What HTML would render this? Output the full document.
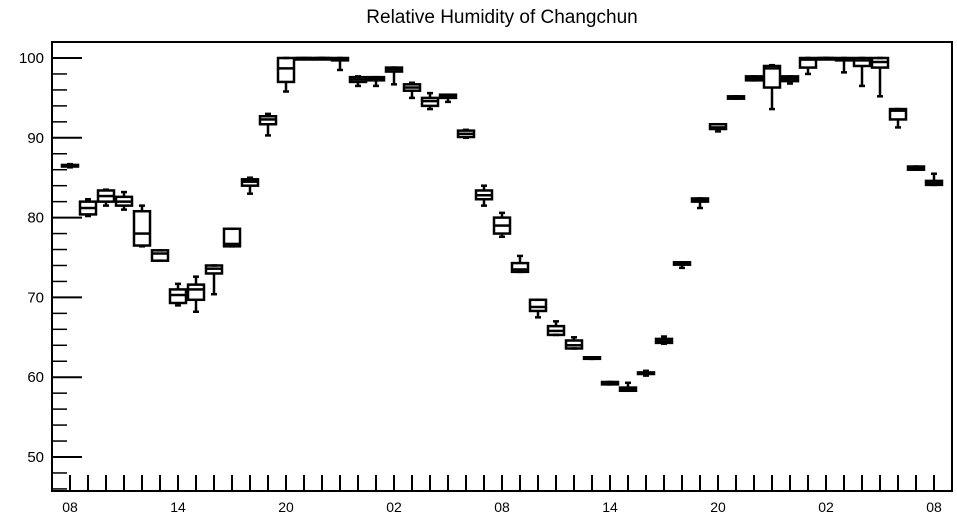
<!DOCTYPE html>
<html><head><meta charset="utf-8"><style>
body{margin:0;background:#fff;}
svg{display:block;font-family:"Liberation Sans",sans-serif;}
</style></head><body>
<svg id="c" width="957" height="520">
<text x="502" y="23" text-anchor="middle" font-size="19">Relative Humidity of Changchun</text>
<g id="axes"></g><g id="marks"></g>
<rect x="52" y="42" width="900" height="449" fill="none" stroke="#000" stroke-width="2"/>
</svg>
<script>
const hourLabels=["08","14","20","02","08","14","20","02","08"];
const yTicks=[50,60,70,80,90,100];
const lowW=[86.3,80.2,81.5,81,76.4,74.6,69,68.2,70.4,76.4,83,90.3,95.8,99.9,100,98.5,96.5,96.5,96.7,95,93.6,94.5,90,81.5,77.6,73.2,67.5,65.3,63.6,62.3,59.1,58.3,60.2,64.2,73.7,81.2,90.8,94.9,97.2,93.6,96.8,98,100,98.2,96.5,95.2,91.3,86,84.1];
const q1=[86.4,80.4,82,81.5,76.5,74.6,69.3,69.7,73,76.4,84,91.7,97,99.9,100,99.7,97,97.2,98.3,95.9,94,95,90.1,82.3,78,73.2,68.3,65.3,63.6,62.3,59.1,58.3,60.4,64.3,74.1,82,91.1,94.9,97.2,96.3,97.1,98.8,100,99.7,99,98.8,92.3,86,84.1];
const med=[86.5,81.2,82.7,82,78,75.5,70.3,71,73.6,76.7,84.5,92.3,98.7,100,100,99.9,97.3,97.4,98.6,96.3,94.6,95.2,90.5,82.8,79,73.5,68.8,65.8,64,62.4,59.2,58.5,60.5,64.5,74.3,82.2,91.3,95,97.4,98.7,97.4,99.8,100,99.9,99.7,99.5,93.4,86.2,84.3];
const q3=[86.6,82,83.4,82.6,80.8,75.9,71,71.6,74,78.6,84.8,92.7,100,100,100,100,97.6,97.6,98.8,96.7,95,95.4,90.9,83.4,80,74.3,69.7,66.4,64.6,62.5,59.4,58.7,60.6,64.8,74.4,82.4,91.7,95.2,97.7,99,97.7,100,100,100,100,100,93.6,86.4,84.6];
const highW=[86.7,82.3,83.5,83.2,81.5,75.9,71.7,72.6,74,78.6,85,93,100,100,100,100,97.7,97.6,98.8,96.9,95.6,95.4,91,84,80.6,75.2,69.7,67,65,62.5,59.4,59.3,60.8,65.1,74.4,82.4,91.7,95.2,97.7,99.1,97.7,100,100,100,100,100,93.6,86.4,85.5];
const NS="http://www.w3.org/2000/svg";
const X0=52,X1=952,Y0=42,Y1=491;
const yv=v=>58+(100-v)*7.98;
const xh=i=>70+18*i;
const ax=document.getElementById('axes'),mk=document.getElementById('marks');
function mkEl(t,a,p){const e=document.createElementNS(NS,t);for(const k in a)e.setAttribute(k,a[k]);p.appendChild(e);return e;}
for(let v=46;v<=102;v+=2){const y=yv(v);if(y<Y0||y>Y1)continue;const major=v%10===0;
 const l=mkEl('line',{x1:X0,x2:X0+(major?30:15),y1:y,y2:y,stroke:'#000','stroke-width':major?2:1.5},ax);
 
 }
yTicks.forEach(v=>{const t=mkEl('text',{x:44,y:yv(v)+5,'text-anchor':'end','font-size':15},ax);t.textContent=v;
 
 });
for(let i=0;i<lowW.length;i++){const l=mkEl('line',{x1:xh(i),x2:xh(i),y1:Y1-16,y2:Y1,stroke:'#000','stroke-width':2},ax);
 
 }
hourLabels.forEach((s,k)=>{const t=mkEl('text',{x:xh(k*6),y:512,'text-anchor':'middle','font-size':14},ax);t.textContent=s;
 
 });
for(let i=0;i<lowW.length;i++){const x=xh(i),g=mkEl('g',{stroke:'#000','stroke-width':2.5,fill:'none'},mk);
 
 
 mkEl('line',{x1:x,x2:x,y1:yv(highW[i]),y2:yv(q3[i])},g);
 mkEl('line',{x1:x,x2:x,y1:yv(q1[i]),y2:yv(lowW[i])},g);
 mkEl('line',{x1:x-3,x2:x+3,y1:yv(highW[i]),y2:yv(highW[i])},g);
 mkEl('line',{x1:x-3,x2:x+3,y1:yv(lowW[i]),y2:yv(lowW[i])},g);
 const top=yv(q3[i]),bot=yv(q1[i]);
 mkEl('rect',{x:x-8,y:top,width:16,height:Math.max(bot-top,1.5)},g);
 mkEl('line',{x1:x-8,x2:x+8,y1:yv(med[i]),y2:yv(med[i])},g);}
</script>
</body></html>
